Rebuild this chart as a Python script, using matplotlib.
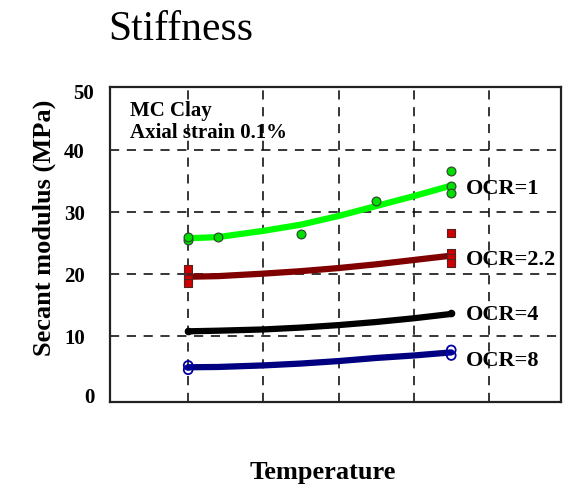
import matplotlib
matplotlib.use("Agg")
import matplotlib.pyplot as plt

plt.rcParams['font.family'] = 'Liberation Serif'

# measured secant moduli (MPa) against temperature position
temp_ocr1 = [1.0, 1.0, 1.4, 2.5, 3.5, 4.5, 4.5, 4.5]
e_ocr1 = [25.6, 26.0, 26.0, 26.5, 31.8, 36.6, 34.2, 33.1]
temp_ocr22 = [1.0, 1.0, 1.0, 4.5, 4.5, 4.5, 4.5]
e_ocr22 = [20.8, 19.3, 18.6, 26.6, 23.5, 22.6, 21.8]
temp_ocr4 = [1.0, 4.5]
e_ocr4 = [10.8, 13.7]
temp_ocr8 = [1.0, 1.0, 4.5, 4.5]
e_ocr8 = [5.3, 4.6, 7.8, 6.9]

# trend curves
trend_t = [1.0, 1.4, 2.0, 2.5, 3.0, 3.5, 4.0, 4.5]
trend_ocr1 = [25.8, 26.0, 27.0, 28.0, 29.4, 31.0, 32.6, 34.3]
trend_ocr22 = [19.6, 19.7, 20.1, 20.5, 21.0, 21.6, 22.3, 23.0]
trend_ocr4 = [10.8, 10.9, 11.1, 11.4, 11.8, 12.3, 12.9, 13.6]
trend_ocr8 = [5.0, 5.05, 5.3, 5.6, 6.0, 6.5, 6.9, 7.4]

labels = ['OCR=1', 'OCR=2.2', 'OCR=4', 'OCR=8']
label_y = [33.7, 22.3, 13.4, 6.0]

fig = plt.figure(figsize=(5.63, 4.86), dpi=100)
ax = fig.add_axes([110/563, 1 - 402/486, 451/563, 315/486])

ax.plot(trend_t, trend_ocr1, color='#00ff00', lw=4.5, solid_capstyle='round', zorder=3)
ax.plot(trend_t, trend_ocr22, color='#800000', lw=4.5, solid_capstyle='round', zorder=3)
ax.plot(trend_t, trend_ocr4, color='black', lw=4.5, solid_capstyle='round', zorder=3)
ax.plot(trend_t, trend_ocr8, color='#000080', lw=4.5, solid_capstyle='round', zorder=3)

ax.scatter(temp_ocr1, e_ocr1, s=40, color='#00e000', edgecolor='#2d4d2d', lw=0.9, zorder=4)
ax.scatter(temp_ocr22, e_ocr22, s=30, marker='s', color='#cc0000', edgecolor='#552222', lw=0.8, zorder=4)
ax.scatter(temp_ocr4, e_ocr4, s=20, color='black', zorder=4)
ax.scatter(temp_ocr8, e_ocr8, s=40, facecolor='none', edgecolor='#0000a0', lw=1.3, zorder=4)

for lab, yy in zip(labels, label_y):
    ax.text(4.7, yy, lab, fontsize=16, fontweight='bold', va='center', ha='left')

ax.text(0.22, 45.6, 'MC Clay', fontsize=15, fontweight='bold')
ax.text(0.22, 42.0, 'Axial strain 0.1%', fontsize=15, fontweight='bold')

ax.set_xlim(-0.04, 5.96)
ax.set_ylim(-0.6, 50.2)
ax.set_xticks([1, 2, 3, 4, 5])
ax.set_xticklabels([])
ax.set_yticks([10, 20, 30, 40])
ax.grid(True, color='black', ls=(0, (6, 5)), lw=1.1)
ax.tick_params(axis='x', length=0)
ax.tick_params(axis='y', length=0, pad=18, labelsize=15)
for t in ax.get_yticklabels():
    t.set_fontweight('bold')
for sp in ax.spines.values():
    sp.set_linewidth(1.6)
    sp.set_color('#222222')

# 0 and 50 sit on the frame, so label them separately
ax.text(-0.25, 0, '0', fontsize=15, fontweight='bold', ha='right', va='center')
ax.text(-0.25, 49, '50', fontsize=15, fontweight='bold', ha='right', va='center')

fig.text(44/563, 1 - 228/486, 'Secant modulus (MPa)', rotation=90, fontsize=19,
         fontweight='bold', ha='center', va='center')
fig.text(323/563, 1 - 472/486, 'Temperature', fontsize=19, fontweight='bold',
         ha='center', va='center')
fig.text(181/563, 1 - 30/486, 'Stiffness', fontsize=30, ha='center', va='center')

fig.savefig('out.png', dpi=100)
